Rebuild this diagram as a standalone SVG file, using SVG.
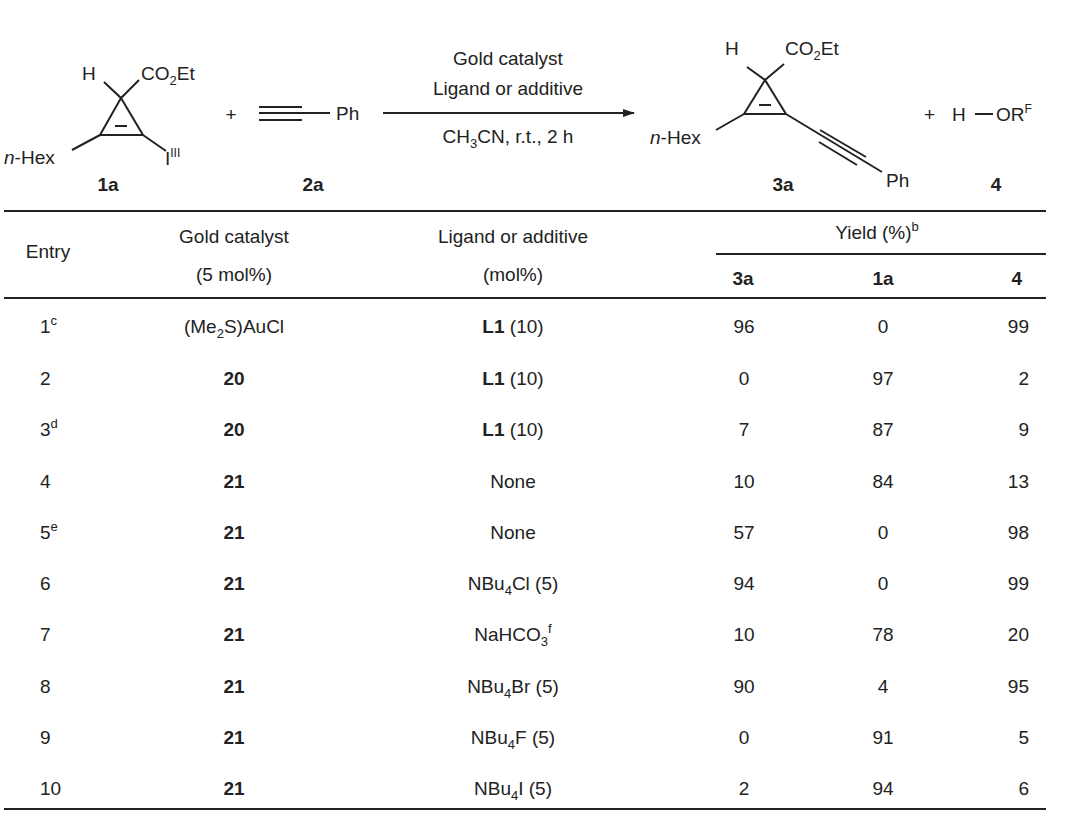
<svg xmlns="http://www.w3.org/2000/svg" width="1068" height="816" viewBox="0 0 1068 816">
<style>
text{font-family:"Liberation Sans",Arial,sans-serif;font-size:19px;fill:#222}
.c{text-anchor:middle}.b{font-weight:bold}.r{text-anchor:end}
.bd{stroke:#222;stroke-width:2;fill:none}
.rule{stroke:#222;stroke-width:2}
</style>
<defs><marker id="ah" markerWidth="12" markerHeight="8" refX="11" refY="4" orient="auto" markerUnits="userSpaceOnUse"><path d="M0,0L12,4L0,8z" fill="#222"/></marker></defs>
<rect width="1068" height="816" fill="#fff"/>
<g id="s1a">
<path class="bd" d="M121,98L100,135L143,135Z M115,126H127 M104,82L121,98L139,80 M72,150L100,135 M143,135L166,151"/>
<text x="82" y="80">H</text><text x="141" y="80">CO<tspan font-size="13" dy="5">2</tspan><tspan dy="-5">Et</tspan></text>
<text x="4" y="164"><tspan font-style="italic">n</tspan>-Hex</text>
<text x="165" y="165">I<tspan font-size="12" dy="-8">III</tspan></text>
<text x="108" y="191" class="c b">1a</text>
</g>
<g id="s2a">
<text x="231" y="121" class="c">+</text>
<path class="bd" d="M259,107H302 M259,113H330 M259,120H302"/>
<text x="336" y="120">Ph</text>
<text x="313" y="191" class="c b">2a</text>
</g>
<g id="arrow">
<line x1="383" y1="113" x2="634" y2="113" stroke="#222" stroke-width="2" marker-end="url(#ah)"/>
<text x="508" y="65" class="c">Gold catalyst</text>
<text x="508" y="95" class="c">Ligand or additive</text>
<text x="508" y="143" class="c">CH<tspan font-size="13" dy="5">3</tspan><tspan dy="-5">CN, r.t., 2 h</tspan></text>
</g>
<g id="s3a">
<path class="bd" d="M765,80L744,114L786,114Z M759,105H771 M747,67L765,80L784,64 M716,130L744,114 M786,114L882,172 M820,130L866,157 M819,142L857,165"/>
<text x="725" y="55">H</text><text x="785" y="55">CO<tspan font-size="13" dy="5">2</tspan><tspan dy="-5">Et</tspan></text>
<text x="650" y="144"><tspan font-style="italic">n</tspan>-Hex</text>
<text x="886" y="187">Ph</text>
<text x="783" y="191" class="c b">3a</text>
</g>
<g id="s4">
<text x="924" y="121">+</text>
<text x="952" y="121">H</text>
<line x1="975" y1="114" x2="993" y2="114" stroke="#222" stroke-width="2"/>
<text x="996" y="121">OR<tspan font-size="12" dy="-8">F</tspan></text>
<text x="996" y="191" class="c b">4</text>
</g>
<g id="table">
<line class="rule" x1="4" y1="211" x2="1046" y2="211"/>
<line class="rule" x1="716" y1="254" x2="1046" y2="254"/>
<line class="rule" x1="4" y1="298" x2="1046" y2="298"/>
<line class="rule" x1="4" y1="809" x2="1046" y2="809"/>
<text x="48" y="258" class="c">Entry</text>
<text x="234" y="243" class="c">Gold catalyst</text>
<text x="234" y="281" class="c">(5 mol%)</text>
<text x="513" y="243" class="c">Ligand or additive</text>
<text x="513" y="281" class="c">(mol%)</text>
<text x="877" y="239" class="c">Yield (%)<tspan font-size="13" dy="-8">b</tspan></text>
<text x="743" y="285" class="c b">3a</text>
<text x="883" y="285" class="c b">1a</text>
<text x="1022" y="285" class="r b" dx="0">4</text>
<g id="rows">
<text x="40" y="333">1<tspan font-size="13" dy="-8">c</tspan></text><text x="234" y="333" class="c">(Me<tspan font-size="13" dy="5">2</tspan><tspan dy="-5">S)AuCl</tspan></text><text x="513" y="333" class="c"><tspan class="b">L1</tspan> (10)</text><text x="744" y="333" class="c">96</text><text x="883" y="333" class="c">0</text><text x="1029" y="333" class="r">99</text>
<text x="40" y="385">2</text><text x="234" y="385" class="c b">20</text><text x="513" y="385" class="c"><tspan class="b">L1</tspan> (10)</text><text x="744" y="385" class="c">0</text><text x="883" y="385" class="c">97</text><text x="1029" y="385" class="r">2</text>
<text x="40" y="436">3<tspan font-size="13" dy="-8">d</tspan></text><text x="234" y="436" class="c b">20</text><text x="513" y="436" class="c"><tspan class="b">L1</tspan> (10)</text><text x="744" y="436" class="c">7</text><text x="883" y="436" class="c">87</text><text x="1029" y="436" class="r">9</text>
<text x="40" y="488">4</text><text x="234" y="488" class="c b">21</text><text x="513" y="488" class="c">None</text><text x="744" y="488" class="c">10</text><text x="883" y="488" class="c">84</text><text x="1029" y="488" class="r">13</text>
<text x="40" y="539">5<tspan font-size="13" dy="-8">e</tspan></text><text x="234" y="539" class="c b">21</text><text x="513" y="539" class="c">None</text><text x="744" y="539" class="c">57</text><text x="883" y="539" class="c">0</text><text x="1029" y="539" class="r">98</text>
<text x="40" y="590">6</text><text x="234" y="590" class="c b">21</text><text x="513" y="590" class="c">NBu<tspan font-size="13" dy="5">4</tspan><tspan dy="-5">Cl (5)</tspan></text><text x="744" y="590" class="c">94</text><text x="883" y="590" class="c">0</text><text x="1029" y="590" class="r">99</text>
<text x="40" y="641">7</text><text x="234" y="641" class="c b">21</text><text x="513" y="641" class="c">NaHCO<tspan font-size="13" dy="5">3</tspan><tspan font-size="13" dy="-13">f</tspan></text><text x="744" y="641" class="c">10</text><text x="883" y="641" class="c">78</text><text x="1029" y="641" class="r">20</text>
<text x="40" y="693">8</text><text x="234" y="693" class="c b">21</text><text x="513" y="693" class="c">NBu<tspan font-size="13" dy="5">4</tspan><tspan dy="-5">Br (5)</tspan></text><text x="744" y="693" class="c">90</text><text x="883" y="693" class="c">4</text><text x="1029" y="693" class="r">95</text>
<text x="40" y="744">9</text><text x="234" y="744" class="c b">21</text><text x="513" y="744" class="c">NBu<tspan font-size="13" dy="5">4</tspan><tspan dy="-5">F (5)</tspan></text><text x="744" y="744" class="c">0</text><text x="883" y="744" class="c">91</text><text x="1029" y="744" class="r">5</text>
<text x="40" y="795">10</text><text x="234" y="795" class="c b">21</text><text x="513" y="795" class="c">NBu<tspan font-size="13" dy="5">4</tspan><tspan dy="-5">I (5)</tspan></text><text x="744" y="795" class="c">2</text><text x="883" y="795" class="c">94</text><text x="1029" y="795" class="r">6</text>
</g>
</g>
</svg>
